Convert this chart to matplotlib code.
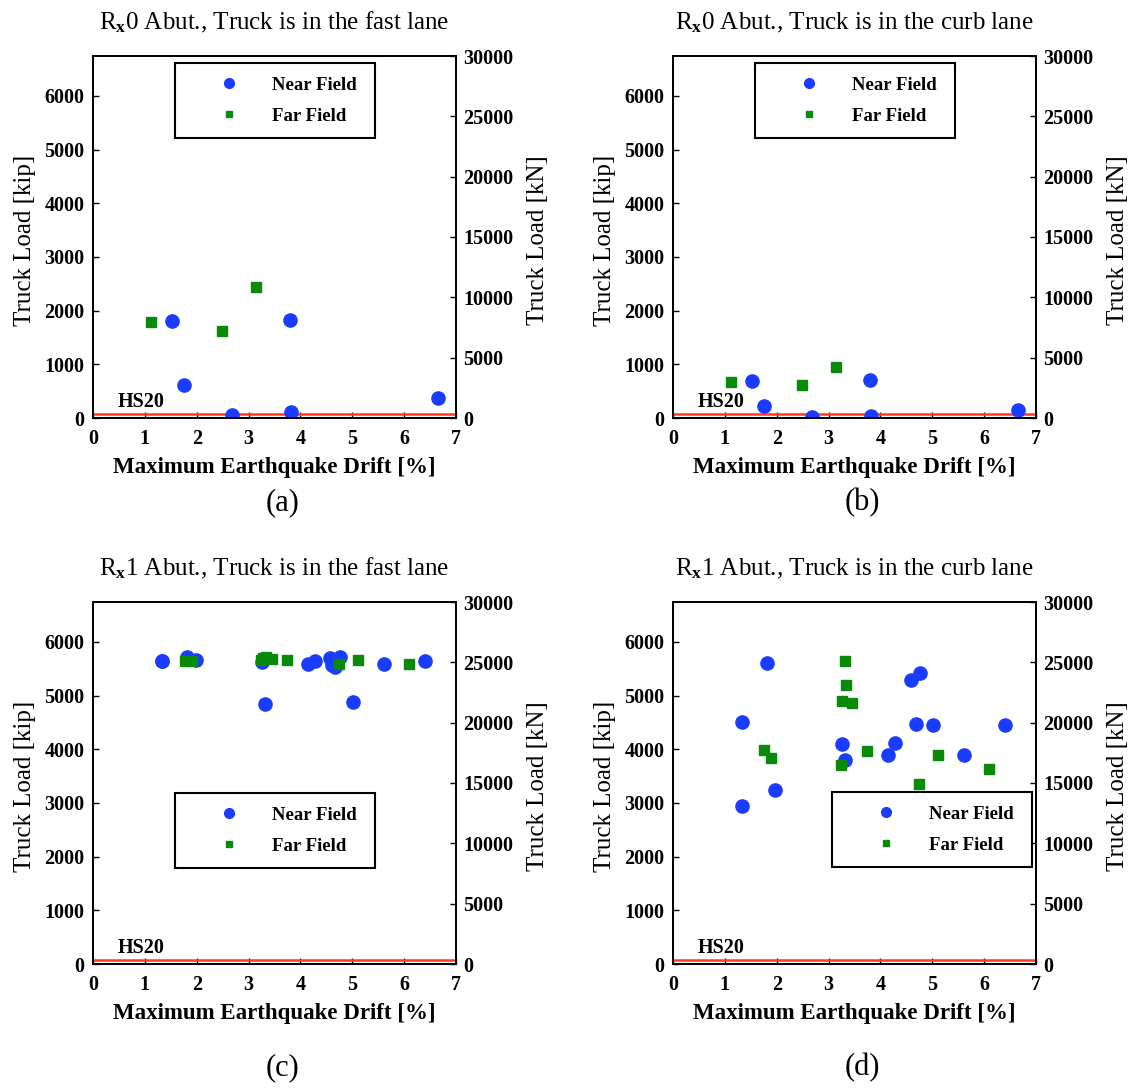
import matplotlib
matplotlib.use("Agg")
import matplotlib.pyplot as plt
from matplotlib.lines import Line2D

plt.rcParams['font.family'] = ['Liberation Serif', 'DejaVu Serif']
plt.rcParams['mathtext.fontset'] = 'custom'
plt.rcParams['mathtext.rm'] = 'Liberation Serif'
plt.rcParams['mathtext.bf'] = 'Liberation Serif:bold'
plt.rcParams['mathtext.it'] = 'Liberation Serif:italic'

KIP_TO_KN = 4.448
HS20 = 72  # kip

# ---- data (drift %, truck load kip) ----
a_near_x = [1.52, 1.75, 2.69, 3.80, 3.82, 6.65]
a_near_y = [1808, 620, 50, 1827, 105, 372]
a_far_x = [1.12, 2.48, 3.14]
a_far_y = [1790, 1630, 2435]

b_near_x = [1.52, 1.75, 2.69, 3.80, 3.82, 6.65]
b_near_y = [682, 229, 13, 706, 37, 143]
b_far_x = [1.12, 2.48, 3.14]
b_far_y = [675, 607, 954]

c_near_x = [1.34, 1.34, 1.82, 1.98, 3.25, 3.31, 4.14, 4.29, 4.57, 4.61, 4.66, 4.77, 5.01, 5.61, 6.41]
c_near_y = [5637, 5640, 5712, 5669, 5630, 4851, 5595, 5645, 5700, 5576, 5530, 5712, 4888, 5589, 5650]
c_far_x = [1.77, 1.90, 3.24, 3.28, 3.34, 3.45, 3.74, 4.74, 5.11, 6.09]
c_far_y = [5650, 5650, 5663, 5700, 5712, 5682, 5663, 5589, 5669, 5595]

d_near_x = [1.34, 1.34, 1.82, 1.97, 3.26, 3.31, 4.15, 4.29, 4.58, 4.69, 4.76, 5.01, 5.61, 6.41]
d_near_y = [4504, 2937, 5607, 3247, 4108, 3805, 3885, 4126, 5297, 4474, 5428, 4461, 3885, 4461]
d_far_x = [1.75, 1.89, 3.24, 3.26, 3.32, 3.33, 3.45, 3.74, 4.74, 5.11, 6.09]
d_far_y = [3996, 3842, 3699, 4907, 5637, 5199, 4870, 3965, 3346, 3890, 3638]

titles = [r"R$_{\mathbf{x}}$0 Abut., Truck is in the fast lane",
          r"R$_{\mathbf{x}}$0 Abut., Truck is in the curb lane",
          r"R$_{\mathbf{x}}$1 Abut., Truck is in the fast lane",
          r"R$_{\mathbf{x}}$1 Abut., Truck is in the curb lane"]
panel_labels = ["(a)", "(b)", "(c)", "(d)"]
x_ticks = [0, 1, 2, 3, 4, 5, 6, 7]
kip_ticks = [0, 1000, 2000, 3000, 4000, 5000, 6000]
kn_ticks = [0, 5000, 10000, 15000, 20000, 25000, 30000]

BLUE = '#1a3cff'
GREEN = '#0a8a0a'
RED = '#ff3b1f'

W, H = 1130, 1088
fig = plt.figure(figsize=(W / 100, H / 100), dpi=100)

# pixel boxes: left, top, right, bottom
boxes = [(93, 56, 456, 418), (673, 56, 1036, 418),
         (93, 602, 456, 964), (673, 602, 1036, 964)]
# legend boxes (left, top) in px
legend_pos = [(175, 63), (755, 63), (175, 793), (832, 792)]
# panel label centre y in px
plabel_y = [503, 503, 1068, 1068]

data = [(a_near_x, a_near_y, a_far_x, a_far_y),
        (b_near_x, b_near_y, b_far_x, b_far_y),
        (c_near_x, c_near_y, c_far_x, c_far_y),
        (d_near_x, d_near_y, d_far_x, d_far_y)]

tick_fs = 14.5
xlabel_fs = 16.5
ylabel_fs = 18

for i in range(4):
    l, t, r, b = boxes[i]
    ax = fig.add_axes([l / W, 1 - b / H, (r - l) / W, (b - t) / H])
    nx, ny, fx, fy = data[i]
    ax.axhline(HS20, color=RED, lw=1.8, zorder=2)
    ax.plot(nx, ny, 'o', color=BLUE, ms=9.5, mec=BLUE, ls='none', zorder=3, label='Near Field')
    ax.plot(fx, fy, 's', color=GREEN, ms=7, mec=GREEN, ls='none', zorder=4, label='Far Field')
    ax.text(0.47, HS20 + 40, 'HS20', fontsize=14.5, fontweight='bold', va='bottom', ha='left')
    ax.set_xlim(0, 7)
    ax.set_ylim(0, 30000 / KIP_TO_KN)
    ax.set_xticks(x_ticks)
    ax.set_yticks(kip_ticks)
    ax.tick_params(direction='in', length=4, width=1, labelsize=tick_fs)
    ax.tick_params(axis='x', pad=8)
    ax.tick_params(axis='y', pad=6)
    for lab in ax.get_xticklabels() + ax.get_yticklabels():
        lab.set_fontweight('bold')
    for sp in ax.spines.values():
        sp.set_linewidth(1.3)
    ax.set_xlabel('Maximum Earthquake Drift [%]', fontsize=xlabel_fs, fontweight='bold', labelpad=6)
    ax.set_ylabel('Truck Load [kip]', fontsize=ylabel_fs)
    ax.yaxis.set_label_coords(-0.157, 0.49)
    ax.set_title(titles[i], fontsize=18, pad=19)

    ax2 = ax.twinx()
    ax2.set_ylim(0, 30000)
    ax2.set_yticks(kn_ticks)
    ax2.tick_params(direction='in', length=4, width=1, labelsize=tick_fs, pad=5)
    for lab in ax2.get_yticklabels():
        lab.set_fontweight('bold')
    for sp in ax2.spines.values():
        sp.set_linewidth(1.3)
    ax2.set_ylabel('Truck Load [kN]', fontsize=ylabel_fs)
    ax2.yaxis.set_label_coords(1.196, 0.49)

    lx, ly = legend_pos[i]
    handles = [Line2D([], [], marker='o', color=BLUE, ms=7, ls='none'),
               Line2D([], [], marker='s', color=GREEN, ms=5, ls='none')]
    bx0 = (lx - l) / (r - l)
    by1 = (b - ly) / (b - t)
    leg = ax2.legend(handles, ['Near Field', 'Far Field'], loc='upper left',
                     bbox_to_anchor=(bx0, by1, 200 / (r - l), 0), mode='expand',
                     borderaxespad=0, prop={'size': 13.5, 'weight': 'bold'},
                     handlelength=4.3, handletextpad=0.15, borderpad=0.72,
                     labelspacing=0.75, fancybox=False, framealpha=1,
                     edgecolor='black')
    leg.get_frame().set_linewidth(1.5)

    fig.text(((l + r) / 2 + 8) / W, 1 - plabel_y[i] / H, panel_labels[i],
             fontsize=22, ha='center', va='center')

fig.savefig('out.png', dpi=100)
